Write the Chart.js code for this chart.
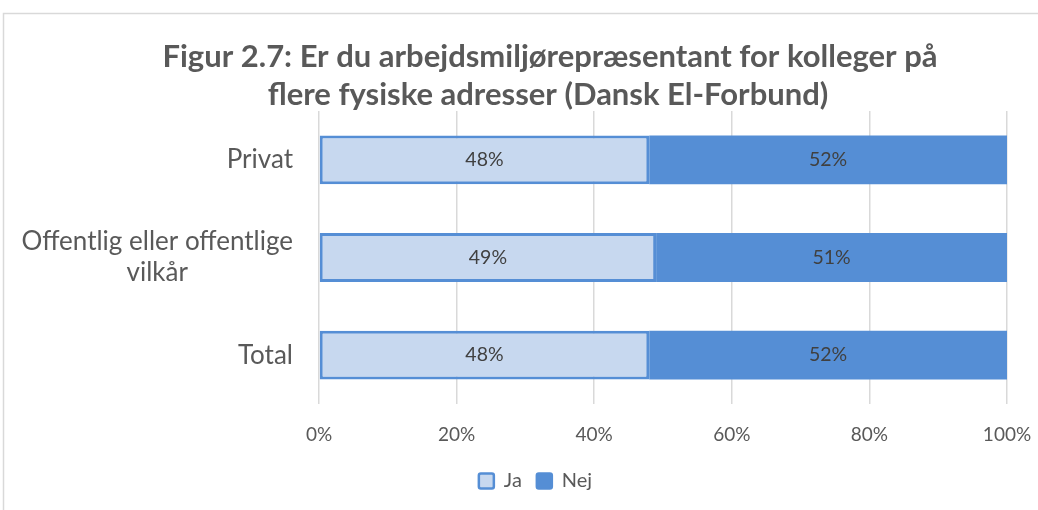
<!DOCTYPE html>
<html>
<head>
<meta charset="utf-8">
<script src="https://cdn.jsdelivr.net/npm/chart.js@4/dist/chart.umd.min.js"></script>
<style>
  html, body { margin: 0; padding: 0; background: #fff; }
  #wrap { width: 1038px; height: 510px; position: relative; }
</style>
</head>
<body>
<div id="wrap"><canvas id="c" width="1038" height="510"></canvas></div>
<script>
const titleLines = ["Figur 2.7: Er du arbejdsmiljørepræsentant for kolleger på", "flere fysiske adresser (Dansk El-Forbund)"];
const categories = [["Privat"], ["Offentlig eller offentlige", "vilkår"], ["Total"]];
const seriesNames = ["Ja", "Nej"];
const jaValues = [48, 49, 48];
const nejValues = [52, 51, 52];
const xTicks = [0, 20, 40, 60, 80, 100];

const FONT = "Lato, 'Open Sans', sans-serif";
const JA_FILL = "#C7D8EF";
const BLUE = "#558ED5";

const framePlugin = {
  id: "frame",
  afterLayout(chart) {
    if (chart.legend) { chart.legend.left += 18; chart.legend.right += 18; }
  },
  beforeDraw(chart) {
    const ctx = chart.ctx;
    ctx.save();
    ctx.fillStyle = "#fff";
    ctx.fillRect(0, 0, chart.width, chart.height);
    ctx.strokeStyle = "#d9d9d9";
    ctx.lineWidth = 1.5;
    ctx.strokeRect(3.5, 13.5, 1200, 700);
    ctx.restore();
  },
  afterDraw(chart) {
    const ctx = chart.ctx;
    ctx.save();
    // Title
    ctx.fillStyle = "#595959";
    ctx.font = "bold 31px " + FONT;
    ctx.textAlign = "center";
    ctx.textBaseline = "middle";
    ctx.fillText(titleLines[0], 550, 57);
    ctx.fillText(titleLines[1], 548, 95);
    // Category labels
    const y = chart.scales.y;
    ctx.font = "26px " + FONT;
    ctx.fillStyle = "#595959";
    const rightEdge = chart.chartArea.left - 26;
    const lh = 31;
    categories.forEach((lines, i) => {
      const cy = y.getPixelForValue(i);
      const w = Math.max(...lines.map(l => ctx.measureText(l).width));
      const cx = rightEdge - w / 2;
      const startY = cy - (lines.length - 1) * lh / 2;
      lines.forEach((l, k) => ctx.fillText(l, cx, startY + k * lh));
    });
    ctx.restore();
  }
};

const dataLabelPlugin = {
  id: "dl",
  afterDatasetsDraw(chart) {
    const ctx = chart.ctx;
    ctx.save();
    ctx.font = "19.5px " + FONT;
    ctx.fillStyle = "#404040";
    ctx.textAlign = "center";
    ctx.textBaseline = "middle";
    chart.data.datasets.forEach((ds, di) => {
      chart.getDatasetMeta(di).data.forEach((bar, i) => {
        const p = bar.getProps(["x", "y", "base"], true);
        ctx.fillText(ds.data[i] + "%", (p.x + p.base) / 2, p.y);
      });
    });
    ctx.restore();
  }
};

new Chart(document.getElementById("c"), {
  type: "bar",
  data: {
    labels: categories.map(c => c.join(" ")),
    datasets: [
      { label: seriesNames[0], data: jaValues, backgroundColor: JA_FILL, borderColor: BLUE, borderWidth: 3, borderSkipped: false },
      { label: seriesNames[1], data: nejValues, backgroundColor: BLUE, borderColor: BLUE, borderWidth: 0 }
    ]
  },
  options: {
    indexAxis: "y",
    responsive: false,
    animation: false,
    devicePixelRatio: 1,
    layout: { padding: { left: 28, right: 31, top: 111, bottom: 9 } },
    datasets: { bar: { barPercentage: 0.5, categoryPercentage: 1.0 } },
    scales: {
      x: {
        stacked: true,
        min: 0, max: 100,
        afterBuildTicks(scale) { scale.ticks = xTicks.map(v => ({ value: v })); },
        ticks: { callback: v => v + "%", color: "#595959", font: { size: 19, family: FONT }, padding: 19 },
        grid: { color: "#d9d9d9", lineWidth: 1.5, drawTicks: false },
        border: { display: false },
        afterFit(scale) { scale.height = 52; scale.paddingLeft = 0; scale.paddingRight = 0; }
      },
      y: {
        stacked: true,
        ticks: { display: false },
        grid: { display: false },
        border: { display: false },
        afterFit(scale) { scale.width = 291; }
      }
    },
    plugins: {
      title: { display: false },
      tooltip: { enabled: false },
      legend: {
        position: "bottom",
        labels: {
          boxWidth: 15, boxHeight: 15,
          color: "#595959",
          font: { size: 20, family: FONT },
          padding: 15,
          generateLabels(chart) {
            return chart.data.datasets.map((ds, i) => ({
              text: ds.label,
              fillStyle: ds.backgroundColor,
              strokeStyle: BLUE,
              lineWidth: 2.5,
              borderRadius: 2,
              fontColor: "#595959",
              datasetIndex: i,
              hidden: false
            }));
          }
        }
      }
    }
  },
  plugins: [framePlugin, dataLabelPlugin]
});
</script>
</body>
</html>
